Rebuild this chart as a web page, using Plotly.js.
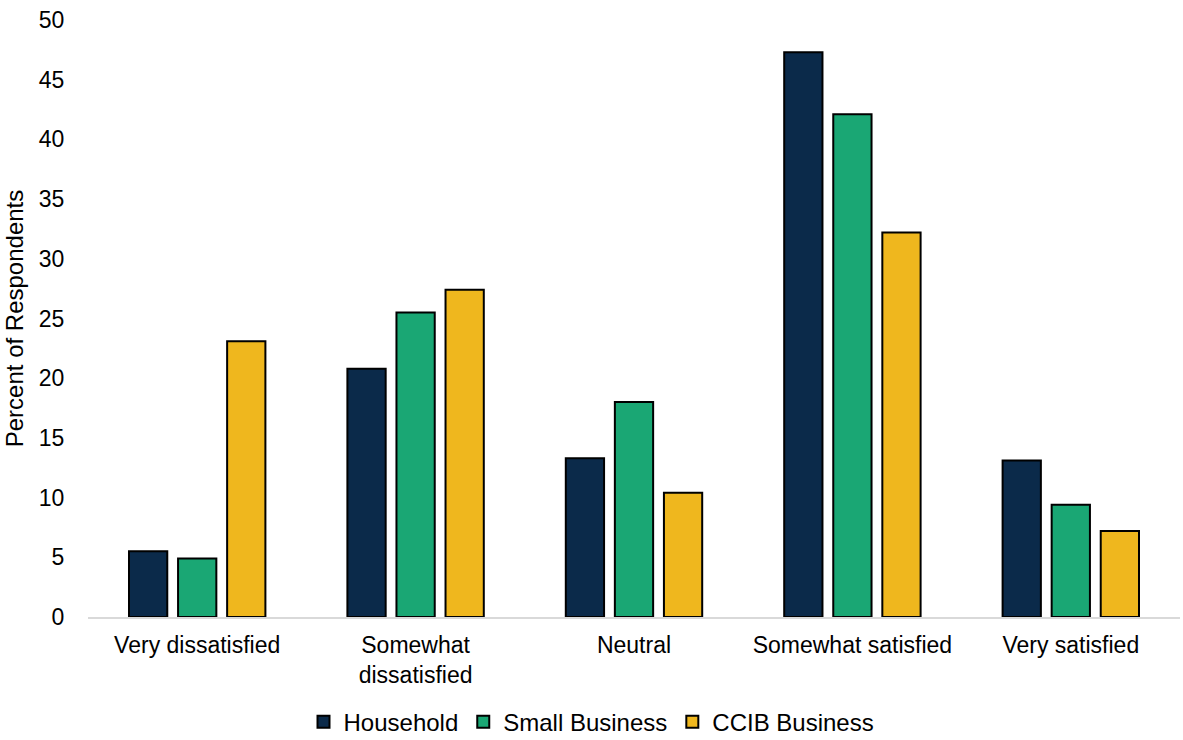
<!DOCTYPE html>
<html><head><meta charset="utf-8">
<script src="https://cdn.plot.ly/plotly-3.0.1.min.js"></script>
<style>html,body{margin:0;padding:0;background:#fff}#chart{width:1183px;height:740px}</style>
</head><body><div id="chart"></div>
<script>
const categories = ["Very dissatisfied", "Somewhat<br>dissatisfied", "Neutral", "Somewhat satisfied", "Very satisfied"];
const household = [5.5, 20.8, 13.3, 47.3, 13.1];
const smallBusiness = [4.9, 25.5, 18.0, 42.1, 9.4];
const ccibBusiness = [23.1, 27.4, 10.4, 32.2, 7.2];
const seriesNames = ["Household", "Small Business", "CCIB Business"];
const colors = ["#0B2A4A", "#1AA774", "#EFB71E"];
const values = [household, smallBusiness, ccibBusiness];

const data = values.map((v, i) => ({
  type: "bar", x: categories, y: v, name: seriesNames[i],
  marker: {color: colors[i], line: {color: "#000", width: 2}},
  hoverinfo: "none"
}));

const layout = {
  width: 1183, height: 740,
  margin: {l: 88, r: 3, t: 20, b: 123, autoexpand: false},
  paper_bgcolor: "#fff", plot_bgcolor: "#fff",
  font: {family: "Liberation Sans, Arial, sans-serif", size: 24, color: "#000"},
  barmode: "group", bargap: 0.326, bargroupgap: 0.22,
  xaxis: {showgrid: false, showline: true, linecolor: "#d9d9d9", linewidth: 2,
    ticks: "outside", ticklen: 6, tickcolor: "rgba(0,0,0,0)", tickfont: {size: 23}},
  yaxis: {range: [0, 50], dtick: 5, showgrid: false, zeroline: false, showline: false,
    ticks: "outside", ticklen: 18, tickcolor: "rgba(0,0,0,0)", tickfont: {size: 23},
    title: {text: "Percent of Respondents", font: {size: 24}, standoff: 8}},
  showlegend: true,
  legend: {orientation: "h", xref: "container", yref: "container", x: 0.5, xanchor: "center",
    y: 0.024, yanchor: "middle", font: {size: 24}, itemwidth: 30, tracegroupgap: 0}
};
Plotly.newPlot("chart", data, layout, {staticPlot: true});
</script></body></html>
